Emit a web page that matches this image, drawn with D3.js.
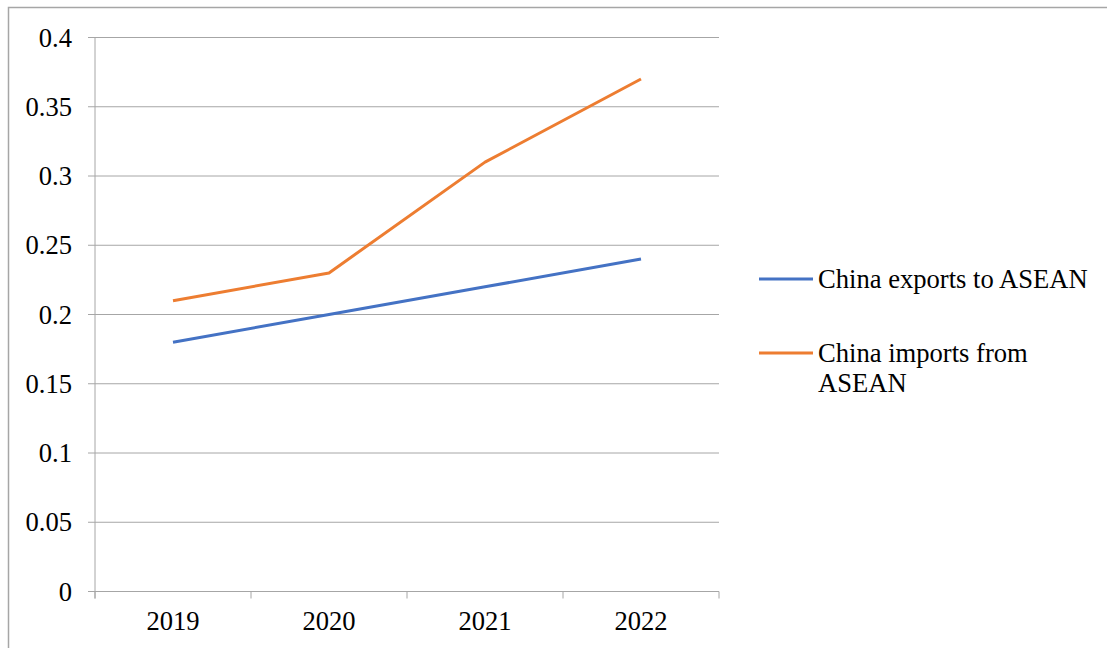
<!DOCTYPE html>
<html>
<head>
<meta charset="utf-8">
<script src="https://cdn.jsdelivr.net/npm/d3@7"></script>
<style>
  body { margin: 0; background: #fff; }
  svg text { font-family: "Liberation Serif", "Times New Roman", serif; fill: #000; }
</style>
</head>
<body>
<div class="visualization"></div>
<script>
const years = ["2019", "2020", "2021", "2022"];
const exportsToAsean = [0.18, 0.20, 0.22, 0.24];
const importsFromAsean = [0.21, 0.23, 0.31, 0.37];
const yTicks = [0, 0.05, 0.1, 0.15, 0.2, 0.25, 0.3, 0.35, 0.4];
const seriesNames = ["China exports to ASEAN", "China imports from ASEAN"];
const seriesColors = ["#4472c4", "#ed7d31"];

const width = 1107;
const height = 648;
const plotleft = 95;
const plotright = 719;
const plottop = 37.5;
const plotbottom = 591.5;
const gridcolor = "#a6a6a6";
const fontsize = "26.6px";

var svg = d3.select(".visualization").
append("svg").
attr("width", width).
attr("height", height);

// outer chart border
svg.append("rect").
attr("x", 8.5).
attr("y", 7.5).
attr("width", width + 10).
attr("height", height + 10).
attr("fill", "none").
attr("stroke", gridcolor).
attr("stroke-width", 1.5);

var x = d3.scaleBand().domain(years).range([plotleft, plotright]).padding(0);
var y = d3.scaleLinear().domain([0, 0.4]).range([plotbottom, plottop]);

// horizontal gridlines
svg.append("g").
selectAll("line").
data(yTicks).
enter().
append("line").
attr("x1", plotleft - 7).
attr("x2", plotright).
attr("y1", d => y(d)).
attr("y2", d => y(d)).
attr("stroke", gridcolor).
attr("stroke-width", 1);

// y axis line
svg.append("line").
attr("x1", plotleft).
attr("x2", plotleft).
attr("y1", plottop).
attr("y2", plotbottom + 7).
attr("stroke", gridcolor);

// x tick marks on category boundaries
var boundaries = years.map(d => x(d)).concat([plotright]);
svg.append("g").
selectAll("line").
data(boundaries).
enter().
append("line").
attr("x1", d => d).
attr("x2", d => d).
attr("y1", plotbottom).
attr("y2", plotbottom + 7).
attr("stroke", gridcolor);

// y labels
svg.append("g").
selectAll("text").
data(yTicks).
enter().
append("text").
attr("x", 72).
attr("y", d => y(d) + 9).
attr("text-anchor", "end").
style("font-size", fontsize).
text(d => d3.format("")(d));

// x labels
svg.append("g").
selectAll("text").
data(years).
enter().
append("text").
attr("x", d => x(d) + x.bandwidth() / 2).
attr("y", 630).
attr("text-anchor", "middle").
style("font-size", fontsize).
text(d => d);

var line = d3.line().
x((d, i) => x(years[i]) + x.bandwidth() / 2).
y(d => y(d));

[exportsToAsean, importsFromAsean].forEach(function (series, k) {
  svg.append("path").
  datum(series).
  attr("d", line).
  attr("fill", "none").
  attr("stroke", seriesColors[k]).
  attr("stroke-width", 3).
  attr("stroke-linejoin", "round");
});

// legend
var legend = svg.append("g");
var legendy = [279, 353];

legend.selectAll("line").
data(seriesNames).
enter().
append("line").
attr("x1", 759).
attr("x2", 813).
attr("y1", (d, i) => legendy[i]).
attr("y2", (d, i) => legendy[i]).
attr("stroke", (d, i) => seriesColors[i]).
attr("stroke-width", 3);

legend.append("text").
attr("x", 818).
attr("y", legendy[0] + 9).
style("font-size", fontsize).
text(seriesNames[0]);

var t2 = legend.append("text").
attr("x", 818).
attr("y", legendy[1] + 9).
style("font-size", fontsize);
t2.append("tspan").attr("x", 818).text("China imports from");
t2.append("tspan").attr("x", 818).attr("dy", 30).text("ASEAN");
</script>
</body>
</html>
